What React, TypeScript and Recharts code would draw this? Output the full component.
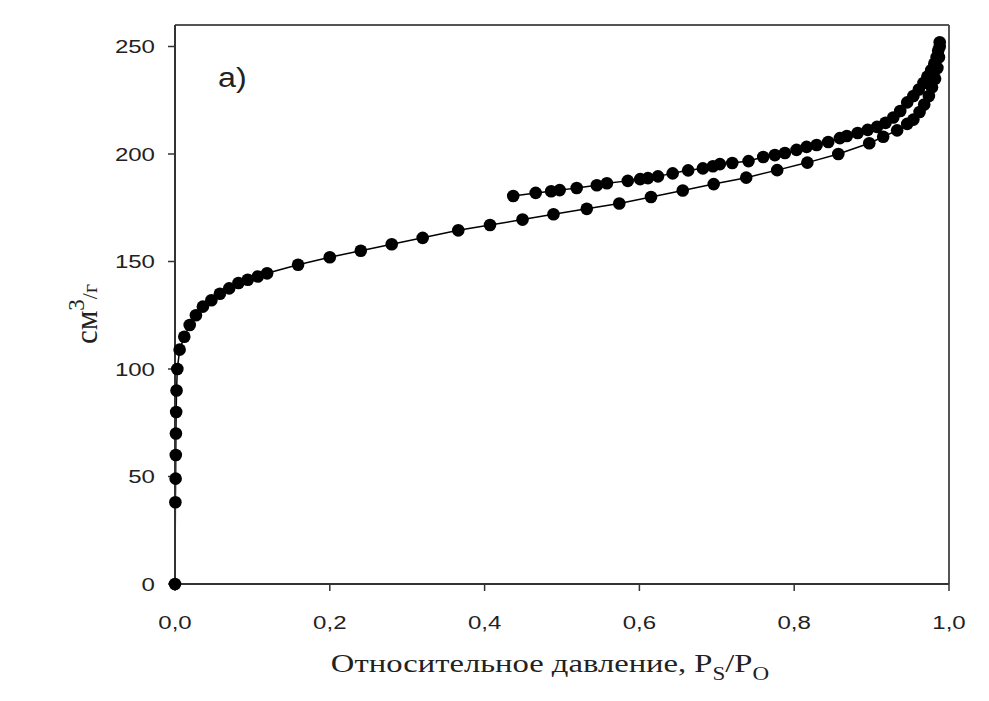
import { LineChart, Line, XAxis, YAxis, ReferenceLine } from 'recharts'

// адсорбция (нижняя ветвь)
const adsX = [0.0, 0.0005, 0.0008, 0.001, 0.0012, 0.0015, 0.002, 0.003, 0.006, 0.012, 0.019, 0.027, 0.036, 0.047, 0.058, 0.07, 0.082, 0.094, 0.107, 0.119, 0.159, 0.2, 0.24, 0.28, 0.32, 0.366, 0.407, 0.449, 0.489, 0.532, 0.574, 0.615, 0.656, 0.696, 0.738, 0.778, 0.817, 0.857, 0.897, 0.915, 0.933, 0.946, 0.954, 0.962, 0.968, 0.974, 0.978, 0.982, 0.985, 0.987, 0.988]
const adsY = [0, 38, 49, 60, 70, 80, 90, 100, 109, 115, 120.5, 125, 129, 132, 135, 137.5, 140, 141.5, 143, 144.5, 148.5, 152, 155, 158, 161, 164.5, 167, 169.5, 172, 174.5, 177, 180, 183, 186, 189, 192.5, 196, 200, 205, 208, 211, 214, 216, 219.5, 223, 227, 231, 235, 240, 245, 250]

// десорбция (верхняя ветвь)
const desX = [0.988, 0.986, 0.984, 0.981, 0.977, 0.972, 0.967, 0.961, 0.954, 0.946, 0.937, 0.928, 0.918, 0.907, 0.895, 0.882, 0.868, 0.859, 0.844, 0.829, 0.816, 0.803, 0.788, 0.775, 0.76, 0.741, 0.72, 0.704, 0.695, 0.682, 0.663, 0.643, 0.624, 0.611, 0.601, 0.585, 0.558, 0.545, 0.519, 0.497, 0.486, 0.466, 0.437]
const desY = [252, 248, 245, 242, 239, 236, 233, 230, 227, 224, 220, 217, 214.5, 212.6, 211.2, 209.8, 208.4, 207.4, 205.6, 204.2, 203.3, 201.9, 200.5, 199.5, 198.6, 196.7, 195.8, 195.3, 194.3, 193.3, 192.4, 191, 189.6, 188.8, 188.3, 187.5, 186.4, 185.5, 184.2, 183.2, 182.7, 181.9, 180.5]

const xTicks = [0, 0.2, 0.4, 0.6, 0.8, 1.0]
const yTicks = [0, 50, 100, 150, 200, 250]

const adsData = adsX.map((x, i) => ({ x, y: adsY[i] }))
const desData = desX.map((x, i) => ({ x, y: desY[i] }))

const SANS = 'Arial, "Liberation Sans", sans-serif'
const SERIF = '"Times New Roman", "Liberation Serif", serif'
const STRETCH = 1.3

function XTick({ x, y, payload }: any) {
  return (
    <g transform={`translate(${x},${y + 36}) scale(${STRETCH},1)`}>
      <text x={0} y={0} textAnchor="middle" fontFamily={SANS} fontSize={18.5} fill="#222">
        {payload.value.toFixed(1).replace('.', ',')}
      </text>
    </g>
  )
}

function YTick({ x, y, payload }: any) {
  return (
    <g transform={`translate(${x - 11},${y}) scale(${STRETCH},1)`}>
      <text x={0} y={0} dy="0.36em" textAnchor="end" fontFamily={SANS} fontSize={18.5} fill="#222">
        {payload.value}
      </text>
    </g>
  )
}

const dot = { r: 6.3, fill: '#000', stroke: '#000', strokeWidth: 0 }

export default function App() {
  return (
    <div style={{ width: 973, height: 685, background: '#fff' }}>
      <LineChart width={973} height={685} margin={{ top: 17, right: 32, bottom: 29, left: 87 }}>
        <XAxis
          dataKey="x"
          type="number"
          domain={[0, 1]}
          ticks={xTicks}
          tick={<XTick />}
          tickSize={7}
          height={80}
          axisLine={{ stroke: '#333', strokeWidth: 2 }}
          tickLine={{ stroke: '#333', strokeWidth: 1.5 }}
          allowDuplicatedCategory={false}
          label={{
            content: () => (
              <g transform={`translate(542,664) scale(1.28,1)`}>
                <text x={0} y={0} textAnchor="middle" fontFamily={SERIF} fontSize={25.5} fill="#222">
                  Относительное давление, P<tspan dy={8} fontSize={18}>S</tspan>
                  <tspan dy={-8}>/P</tspan>
                  <tspan dy={8} fontSize={18}>O</tspan>
                </text>
              </g>
            ),
          }}
        />
        <YAxis
          dataKey="y"
          type="number"
          domain={[0, 260]}
          ticks={yTicks}
          tick={<YTick />}
          tickSize={7}
          width={80}
          axisLine={{ stroke: '#333', strokeWidth: 2 }}
          tickLine={{ stroke: '#333', strokeWidth: 1.5 }}
          label={{
            content: () => (
              <g transform="translate(89,306) rotate(-90)">
                <text x={0} y={0} textAnchor="middle" fontFamily={SERIF} fontSize={31} fill="#222">
                  см<tspan dy={-13} fontSize={23}>3</tspan>
                  <tspan dy={13} fontSize={22}>/г</tspan>
                </text>
              </g>
            ),
          }}
        />
        <ReferenceLine y={260} stroke="#555" strokeWidth={2} />
        <ReferenceLine x={1} stroke="#555" strokeWidth={2} />
        <Line
          data={adsData}
          dataKey="y"
          stroke="#000"
          strokeWidth={1.5}
          dot={dot}
          activeDot={false}
          isAnimationActive={false}
        />
        <Line
          data={desData}
          dataKey="y"
          stroke="#000"
          strokeWidth={1.5}
          dot={dot}
          activeDot={false}
          isAnimationActive={false}
        />
        <ReferenceLine
          y={260}
          stroke="none"
          label={{
            content: () => (
              <g transform={`translate(210,79) scale(1.15,1)`}>
                <text x={0} y={0} fontFamily={SANS} fontSize={28} fill="#222">a)</text>
              </g>
            ),
          }}
        />
      </LineChart>
    </div>
  )
}
